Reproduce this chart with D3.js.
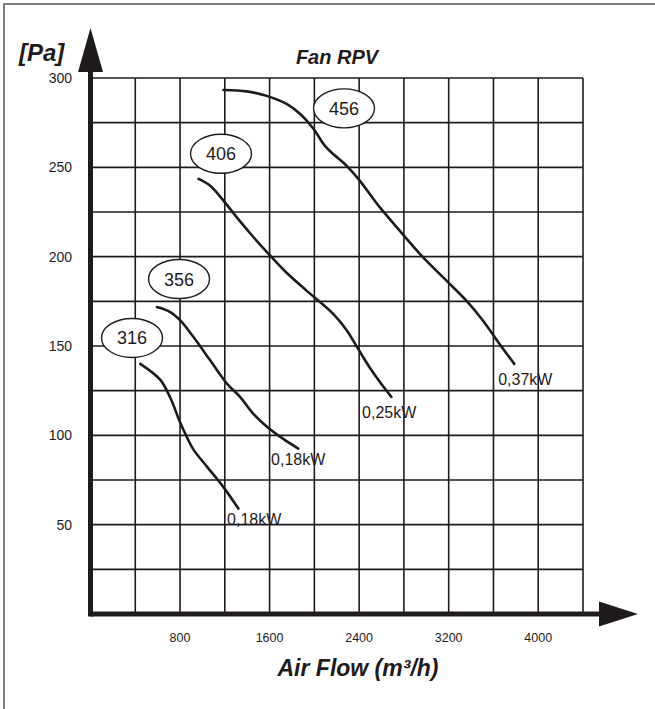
<!DOCTYPE html>
<html>
<head>
<meta charset="utf-8">
<script src="https://cdn.jsdelivr.net/npm/d3@7"></script>
<style>
    body { margin: 0; background: #fff; }
    svg { display: block; font-family: 'Liberation Sans', Arial, sans-serif; }
</style>
</head>
<body>
<div id="fan-chart"></div>
<script>
// Fan curves (flow in m3/h, pressure in Pa)
var flow316 = [445, 624, 713, 802, 861, 920, 1040, 1188, 1321];
var pa316   = [140, 131, 121, 107, 99, 92, 82.5, 71, 59];

var flow356 = [594, 713, 802, 920, 1069, 1218, 1336, 1455, 1574, 1722, 1856];
var pa356   = [171.8, 169, 164.3, 155, 142, 129, 121.5, 112, 105, 98, 92.6];

var flow406 = [965, 1069, 1188, 1307, 1455, 1604, 1752, 1930, 2168, 2287, 2390, 2494, 2584, 2688];
var pa406   = [243.5, 239.7, 231.4, 222, 211, 200.7, 191, 181, 168, 159, 148.5, 138, 130, 121.5];

var flow456 = [1188, 1396, 1574, 1752, 1871, 1990, 2094, 2168, 2287, 2405, 2584, 2762, 2970, 3178, 3356, 3505, 3653, 3786];
var pa456   = [293.3, 292.5, 290, 285.5, 280, 271.7, 262, 257.5, 251, 242.6, 227.7, 214.6, 199.7, 186.7, 175.5, 164.3, 151.3, 140];

// model tags (ellipses) and motor power tags
var fanSizes  = ['316', '356', '406', '456'];
var sizeFlow  = [371, 791, 1166, 2265];
var sizePa    = [154.5, 187.5, 257.6, 283];
var powers    = ['0,18kW', '0,18kW', '0,25kW', '0,37kW'];
var powerFlow = [1220, 1613, 2426, 3642];
var powerPa   = [49.8, 83.4, 109.7, 128.2];

// axes
var xTicks = [800, 1600, 2400, 3200, 4000];
var yTicks = [50, 100, 150, 200, 250, 300];
var xMax = 4400, yMax = 300;

var curves = [
    { flow: flow316, pa: pa316 },
    { flow: flow356, pa: pa356 },
    { flow: flow406, pa: pa406 },
    { flow: flow456, pa: pa456 }
];

var W = 655, H = 709;
var ink = '#1f1b1c';

var svg = d3.select('#fan-chart')
    .append('svg')
    .attr('width', W)
    .attr('height', H);

// outer frame (left + top only, like the scan)
svg.append('path')
    .attr('d', 'M4,' + H + ' L4,4 L' + W + ',4')
    .attr('fill', 'none')
    .attr('stroke', '#555')
    .attr('stroke-width', 1.5);

var x = d3.scaleLinear().domain([0, xMax]).range([90.5, 583]);
var y = d3.scaleLinear().domain([0, yMax]).range([614, 78]);

// grid
var g = svg.append('g').attr('class', 'grid');
g.selectAll('.vline')
    .data(d3.range(400, xMax + 1, 400))
    .enter().append('line')
    .attr('x1', function(d) { return x(d); })
    .attr('x2', function(d) { return x(d); })
    .attr('y1', y(0))
    .attr('y2', y(yMax))
    .attr('stroke', ink)
    .attr('stroke-width', 1.6);

g.selectAll('.hline')
    .data(d3.range(25, yMax + 1, 25))
    .enter().append('line')
    .attr('x1', x(0))
    .attr('x2', x(xMax))
    .attr('y1', function(d) { return y(d); })
    .attr('y2', function(d) { return y(d); })
    .attr('stroke', ink)
    .attr('stroke-width', 1.6);

// axis lines with arrows
svg.append('line')
    .attr('x1', x(0)).attr('x2', 602)
    .attr('y1', y(0)).attr('y2', y(0))
    .attr('stroke', ink).attr('stroke-width', 5);
svg.append('path')
    .attr('d', 'M599,' + (y(0) - 12.5) + ' L638,' + y(0) + ' L599,' + (y(0) + 12.5) + 'Z')
    .attr('fill', ink);

svg.append('line')
    .attr('x1', x(0)).attr('x2', x(0))
    .attr('y1', y(0) + 2.5).attr('y2', 70)
    .attr('stroke', ink).attr('stroke-width', 5);
svg.append('path')
    .attr('d', 'M' + (x(0) - 12.5) + ',72 L' + x(0) + ',28 L' + (x(0) + 12.5) + ',72Z')
    .attr('fill', ink);

// tick labels
svg.selectAll('.xtick')
    .data(xTicks)
    .enter().append('text')
    .attr('x', function(d) { return x(d); })
    .attr('y', 642)
    .attr('text-anchor', 'middle')
    .attr('font-size', 12.5)
    .attr('fill', ink)
    .text(function(d) { return d; });

svg.selectAll('.ytick')
    .data(yTicks)
    .enter().append('text')
    .attr('x', 72)
    .attr('y', function(d) { return y(d) + 5; })
    .attr('text-anchor', 'end')
    .attr('font-size', 14)
    .attr('fill', ink)
    .text(function(d) { return d; });

// titles
svg.append('text')
    .attr('x', 337).attr('y', 64)
    .attr('text-anchor', 'middle')
    .attr('font-size', 20).attr('font-weight', 'bold').attr('font-style', 'italic')
    .attr('fill', ink)
    .text('Fan RPV');

svg.append('text')
    .attr('x', 19).attr('y', 61)
    .attr('font-size', 24).attr('font-weight', 'bold').attr('font-style', 'italic')
    .attr('fill', ink)
    .text('[Pa]');

svg.append('text')
    .attr('x', 358).attr('y', 676)
    .attr('text-anchor', 'middle')
    .attr('font-size', 23).attr('font-weight', 'bold').attr('font-style', 'italic')
    .attr('fill', ink)
    .text('Air Flow (m³/h)');

// curves
var line = d3.line()
    .x(function(d) { return x(d[0]); })
    .y(function(d) { return y(d[1]); })
    .curve(d3.curveCatmullRom);

svg.selectAll('.curve')
    .data(curves)
    .enter().append('path')
    .attr('d', function(c) { return line(d3.zip(c.flow, c.pa)); })
    .attr('fill', 'none')
    .attr('stroke', ink)
    .attr('stroke-width', 2.6)
    .attr('stroke-linecap', 'round');

// size tags
var tag = svg.selectAll('.tag')
    .data(fanSizes)
    .enter().append('g')
    .attr('transform', function(d, i) {
        return 'translate(' + x(sizeFlow[i]) + ',' + y(sizePa[i]) + ')';
    });
tag.append('ellipse')
    .attr('rx', 30.5).attr('ry', 19.5)
    .attr('fill', '#fff')
    .attr('stroke', ink)
    .attr('stroke-width', 1.4);
tag.append('text')
    .attr('text-anchor', 'middle')
    .attr('y', 6.5)
    .attr('font-size', 18)
    .attr('fill', ink)
    .text(function(d) { return d; });

// power tags
svg.selectAll('.power')
    .data(powers)
    .enter().append('text')
    .attr('x', function(d, i) { return x(powerFlow[i]); })
    .attr('y', function(d, i) { return y(powerPa[i]); })
    .attr('font-size', 16)
    .attr('fill', ink)
    .text(function(d) { return d; });
</script>
</body>
</html>
